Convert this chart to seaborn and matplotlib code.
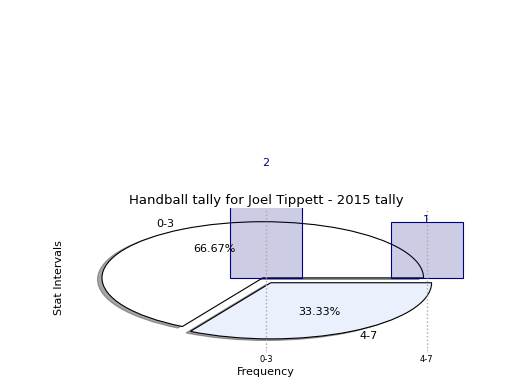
import matplotlib
matplotlib.use("Agg")
import matplotlib.pyplot as plt
import seaborn as sns

# Data
intervals = ["0-3", "4-7"]
counts = [2, 1]
pie_colors = ["white", "#eaf0fc"]

fig = plt.figure(figsize=(5.2, 3.9), dpi=100)
ax = fig.add_axes([0.125, 0.1075, 0.773, 0.36])

# Pie drawn at the origin of the same axes as the bars
ax.pie(counts, labels=intervals, colors=pie_colors, autopct="%.2f%%",
       explode=(0, 0.1), shadow=True, startangle=0, center=(-0.02, 0),
       wedgeprops={"edgecolor": "black", "linewidth": 0.8},
       textprops={"fontsize": 8})

# Bars on top of the pie
sns.barplot(x=intervals, y=counts, color="navy", saturation=1, width=0.45,
            legend=False, ax=ax)
for bar, n in zip(ax.containers[0], counts):
    bar.set_facecolor((0, 0, 0.5, 0.2))
    bar.set_edgecolor("navy")
    bar.set_linewidth(0.8)
    ax.text(bar.get_x() + bar.get_width() / 2, n - 0.05, str(n), ha="center",
            va="bottom", color="navy", fontsize=8)

ax.set_aspect("auto")
ax.set_xlim(-1.25, 1.25)
ax.set_ylim(-1.25, 1.25)
ax.set_frame_on(False)
ax.set_yticks([])
ax.set_xticks([0, 1])
ax.set_xticklabels(intervals, fontsize=6)
ax.tick_params(axis="x", length=3, pad=2, color="lightgrey")
ax.grid(axis="x", linestyle=":", color="darkgrey", linewidth=1)

ax.set_title("Handball tally for Joel Tippett - 2015 tally", fontsize=9.5, pad=3)
ax.set_xlabel("Frequency", fontsize=8, labelpad=2, visible=True)
ax.set_ylabel("Stat Intervals", fontsize=8, labelpad=1, visible=True)

fig.savefig("out.png", dpi=100)
